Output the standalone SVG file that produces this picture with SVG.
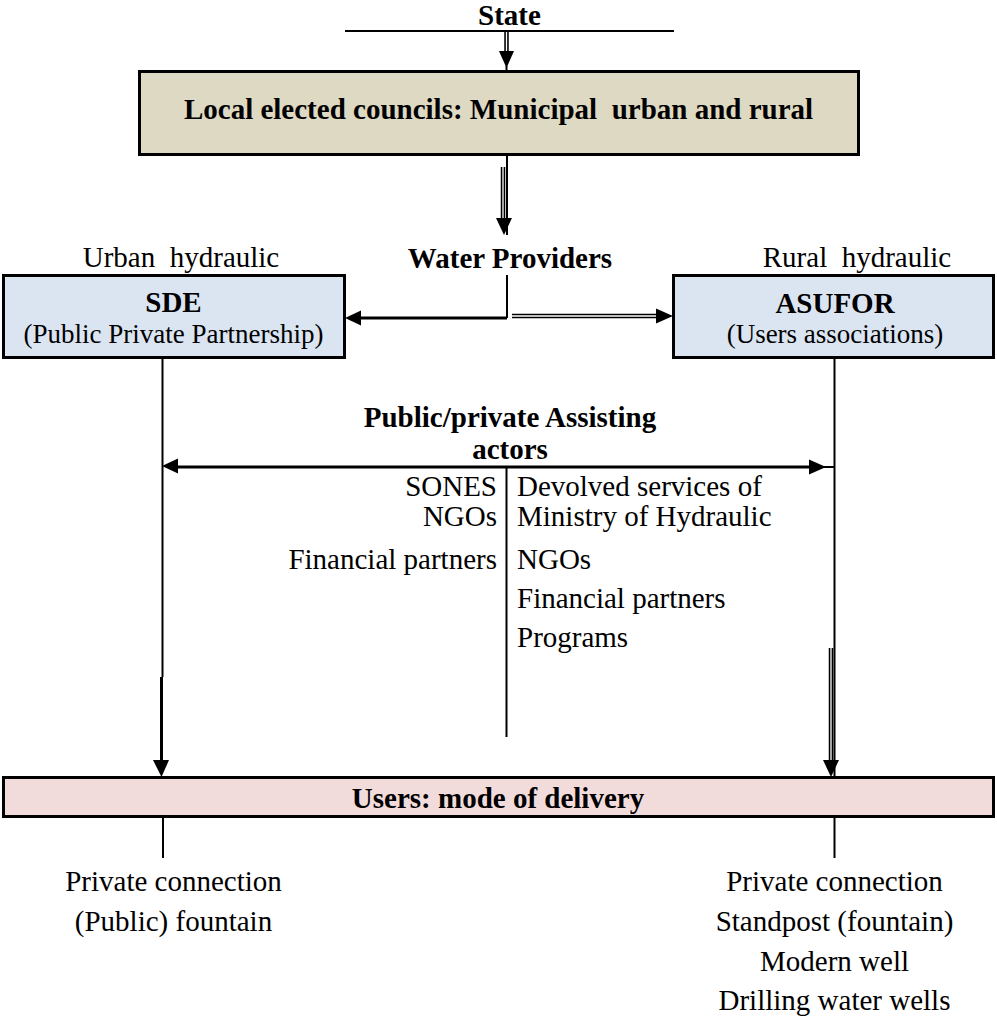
<svg xmlns="http://www.w3.org/2000/svg" width="997" height="1019" viewBox="0 0 997 1019">
<style>
text{font-family:"Liberation Serif","Times New Roman",serif;font-size:29px;fill:#000;white-space:pre}
.b{font-weight:bold}
.m{text-anchor:middle}
.e{text-anchor:end}
.s{font-size:27px}
.box{stroke:#000;stroke-width:3}
.ln{stroke:#000;stroke-width:2;fill:none}
.th{stroke:#000;stroke-width:3;fill:none}
.dbl{stroke:#000;stroke-width:4.5;fill:none}
.dbli{stroke:#fff;stroke-width:1.3;fill:none}
.ah{fill:#000}
</style>
<rect width="997" height="1019" fill="#fff"/>
<g id="connectors">
  <line class="ln" x1="345" y1="31" x2="674" y2="31"/>
  <line class="dbl" x1="506.5" y1="32" x2="506.5" y2="53"/>
  <line class="dbli" x1="506.5" y1="32" x2="506.5" y2="52"/>
  <polygon class="ah" points="499,51 514,51 506.5,68"/>
  <line class="ln" x1="506.5" y1="66" x2="506.5" y2="71"/>
  <line class="ln" x1="507" y1="155" x2="507" y2="235"/>
  <line class="dbl" x1="503" y1="167" x2="503" y2="220"/>
  <line class="dbli" x1="503" y1="167" x2="503" y2="219"/>
  <polygon class="ah" points="496,218 512,218 504,235"/>
  <line class="ln" x1="507" y1="275" x2="507" y2="318"/>
  <line class="th" x1="358" y1="318" x2="507" y2="318"/>
  <polygon class="ah" points="345,318 361,310.5 361,325.5"/>
  <line class="dbl" x1="512" y1="316" x2="658" y2="316"/>
  <line class="dbli" x1="512" y1="316" x2="657" y2="316"/>
  <polygon class="ah" points="673,316 656,308.5 656,323.5"/>
  <line class="ln" x1="162.5" y1="358" x2="162.5" y2="677"/>
  <line class="th" x1="161.5" y1="677" x2="161.5" y2="762"/>
  <polygon class="ah" points="153,760 169,760 161.5,777"/>
  <line class="ln" x1="834.5" y1="358" x2="834.5" y2="777"/>
  <line class="dbl" x1="831" y1="648" x2="831" y2="762"/>
  <line class="dbli" x1="831" y1="648" x2="831" y2="760"/>
  <polygon class="ah" points="823,760 839,760 831,777"/>
  <line class="th" x1="175" y1="467" x2="812" y2="467"/>
  <line class="ln" x1="820" y1="467" x2="834.5" y2="467"/>
  <polygon class="ah" points="162,466 178,458.5 178,473.5"/>
  <polygon class="ah" points="826,467 809,459.5 809,474.5"/>
  <line class="ln" x1="506.5" y1="467" x2="506.5" y2="737"/>
  <line class="ln" x1="163" y1="817" x2="163" y2="858"/>
  <line class="ln" x1="834.5" y1="817" x2="834.5" y2="858"/>
</g>
<g id="state">
  <text class="b m" x="509.5" y="25">State</text>
</g>
<g id="councils">
  <rect class="box" x="139.5" y="71.5" width="719" height="83" fill="#ddd9c3"/>
  <text class="b m" x="498.5" y="119">Local elected councils: Municipal  urban and rural</text>
</g>
<g id="water-providers">
  <text class="b m" x="510" y="268">Water Providers</text>
</g>
<g id="sde">
  <text class="m" x="181" y="267">Urban  hydraulic</text>
  <rect class="box" x="3.5" y="275.5" width="341" height="82" fill="#dbe5f1"/>
  <text class="b m" x="173.5" y="312">SDE</text>
  <text class="m s" x="173.5" y="343">(Public Private Partnership)</text>
</g>
<g id="asufor">
  <text class="m" x="857" y="267">Rural  hydraulic</text>
  <rect class="box" x="673.5" y="275.5" width="320" height="82" fill="#dbe5f1"/>
  <text class="b m" x="835" y="313">ASUFOR</text>
  <text class="m s" x="835" y="343">(Users associations)</text>
</g>
<g id="assisting-actors">
  <text class="b m" x="510" y="427">Public/private Assisting</text>
  <text class="b m" x="510" y="459">actors</text>
  <text class="e" x="497" y="496">SONES</text>
  <text class="e" x="497" y="526">NGOs</text>
  <text class="e" x="497" y="569">Financial partners</text>
  <text x="517" y="496">Devolved services of</text>
  <text x="517" y="526">Ministry of Hydraulic</text>
  <text x="517" y="569">NGOs</text>
  <text x="517" y="608">Financial partners</text>
  <text x="517" y="647">Programs</text>
</g>
<g id="users">
  <rect class="box" x="3.5" y="777.5" width="990" height="39" fill="#f2dcdb"/>
  <text class="b m" x="498" y="808">Users: mode of delivery</text>
</g>
<g id="urban-delivery">
  <text class="m" x="173.5" y="891">Private connection</text>
  <text class="m" x="173.5" y="931">(Public) fountain</text>
</g>
<g id="rural-delivery">
  <text class="m" x="834.5" y="891">Private connection</text>
  <text class="m" x="834.5" y="931">Standpost (fountain)</text>
  <text class="m" x="834.5" y="971">Modern well</text>
  <text class="m" x="834.5" y="1010">Drilling water wells</text>
</g>
</svg>
